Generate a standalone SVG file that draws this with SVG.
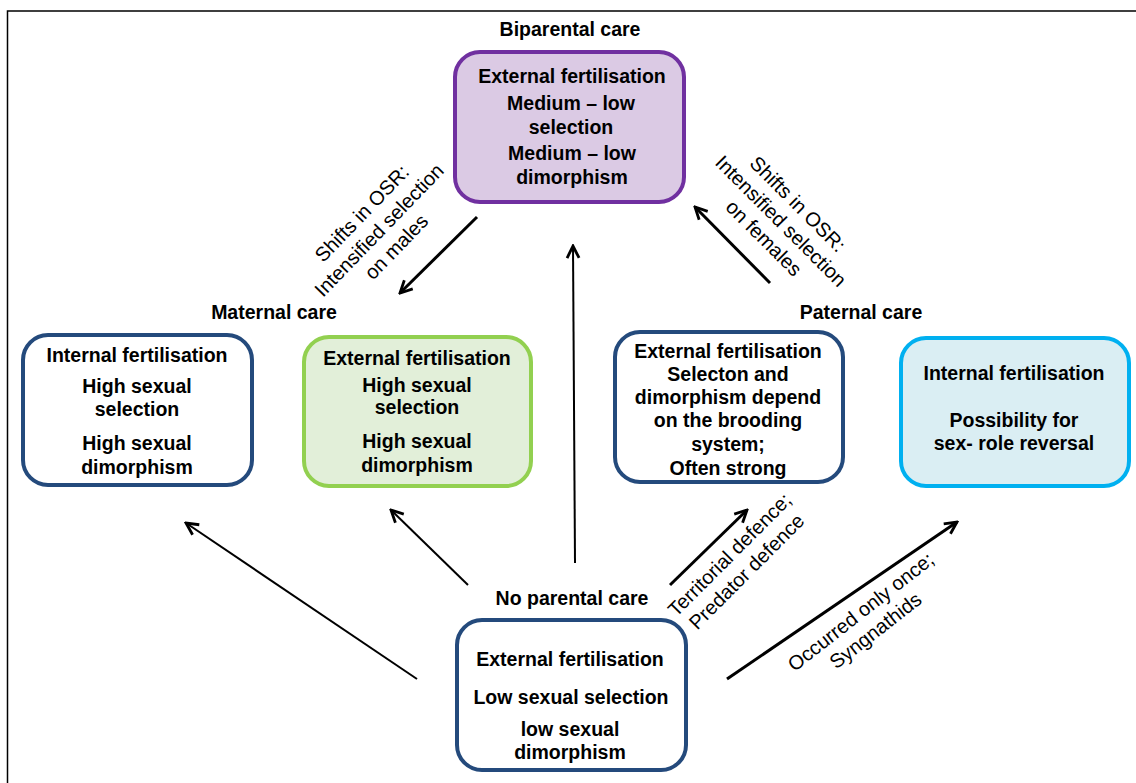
<svg xmlns="http://www.w3.org/2000/svg" width="1136" height="783" viewBox="0 0 1136 783">
<style>
.t{font-family:"Liberation Sans",Arial,sans-serif;font-size:19.5px;font-weight:bold;fill:#000;text-anchor:middle}
.l{font-family:"Liberation Sans",Arial,sans-serif;font-size:20px;fill:#000;text-anchor:middle}
.box{stroke-width:4}
.dark{fill:#fff;stroke:#244A7C}
.conn line{stroke:#000;fill:none}
</style>
<defs>
<marker id="ah" viewBox="0 0 16 16" refX="14" refY="8" markerWidth="16" markerHeight="16" markerUnits="userSpaceOnUse" orient="auto">
<path d="M2,2 L14,8 L2,14" fill="none" stroke="#000" stroke-width="2.8" stroke-linejoin="miter"/>
</marker>
</defs>
<rect width="1136" height="783" fill="#fff"/>
<path d="M7.5,783 V11 H1136" fill="none" stroke="#000" stroke-width="1.5"/>

<g id="biparental">
<text class="t" x="570" y="36">Biparental care</text>
<rect class="box" x="455" y="52" width="229" height="150" rx="25" fill="#DBCAE4" stroke="#7030A0"/>
<text class="t" x="572" y="83">External fertilisation</text>
<text class="t" x="571" y="110">Medium – low</text>
<text class="t" x="571" y="134">selection</text>
<text class="t" x="572" y="160">Medium – low</text>
<text class="t" x="572" y="184">dimorphism</text>
</g>

<g id="maternal-label"><text class="t" x="274" y="319">Maternal care</text></g>
<g id="maternal-internal">
<rect class="box dark" x="23" y="335" width="229" height="150" rx="25"/>
<text class="t" x="137" y="362">Internal fertilisation</text>
<text class="t" x="137" y="393">High sexual</text>
<text class="t" x="137" y="416">selection</text>
<text class="t" x="137" y="450">High sexual</text>
<text class="t" x="137" y="474">dimorphism</text>
</g>
<g id="maternal-external">
<rect class="box" x="304" y="337" width="227" height="149" rx="25" fill="#E2EFD9" stroke="#92D050"/>
<text class="t" x="417" y="365">External fertilisation</text>
<text class="t" x="417" y="392">High sexual</text>
<text class="t" x="417" y="414">selection</text>
<text class="t" x="417" y="448">High sexual</text>
<text class="t" x="417" y="472">dimorphism</text>
</g>

<g id="paternal-label"><text class="t" x="861" y="319">Paternal care</text></g>
<g id="paternal-external">
<rect class="box dark" x="615" y="332" width="228" height="150" rx="25"/>
<text class="t" x="728" y="358">External fertilisation</text>
<text class="t" x="728" y="381">Selecton and</text>
<text class="t" x="728" y="404">dimorphism depend</text>
<text class="t" x="728" y="427">on the brooding</text>
<text class="t" x="728" y="451">system;</text>
<text class="t" x="728" y="475">Often strong</text>
</g>
<g id="paternal-internal">
<rect class="box" x="901" y="338" width="228" height="148" rx="25" fill="#DAEEF3" stroke="#00B0F0"/>
<text class="t" x="1014" y="380">Internal fertilisation</text>
<text class="t" x="1014" y="427">Possibility for</text>
<text class="t" x="1014" y="450">sex- role reversal</text>
</g>

<g id="none">
<text class="t" x="572" y="605">No parental care</text>
<rect class="box dark" x="457" y="620" width="229" height="150" rx="25"/>
<text class="t" x="570" y="666">External fertilisation</text>
<text class="t" x="571" y="704">Low sexual selection</text>
<text class="t" x="570" y="736">low sexual</text>
<text class="t" x="570" y="759">dimorphism</text>
</g>

<g id="connectors" class="conn">
<line x1="477" y1="217" x2="400" y2="293" stroke-width="3" marker-end="url(#ah)"/>
<line x1="770" y1="283" x2="695" y2="207" stroke-width="3" marker-end="url(#ah)"/>
<line x1="575" y1="563" x2="573" y2="246" stroke-width="2" marker-end="url(#ah)"/>
<line x1="417" y1="679" x2="186" y2="523" stroke-width="2" marker-end="url(#ah)"/>
<line x1="468" y1="585" x2="391" y2="510" stroke-width="2" marker-end="url(#ah)"/>
<line x1="670" y1="585" x2="747" y2="510" stroke-width="3" marker-end="url(#ah)"/>
<line x1="727" y1="679" x2="957" y2="522" stroke-width="3" marker-end="url(#ah)"/>
</g>

<g id="edge-labels">
<text class="l" transform="translate(379,230) rotate(-46)"><tspan x="0" y="-17">Shifts in OSR:</tspan><tspan x="0" y="7">Intensified selection</tspan><tspan x="0" y="31">on males</tspan></text>
<text class="l" transform="translate(781,221) rotate(45)"><tspan x="0" y="-17">Shifts in OSR:</tspan><tspan x="0" y="7">Intensified selection</tspan><tspan x="0" y="31">on females</tspan></text>
<text class="l" transform="translate(738,563) rotate(-45)"><tspan x="0" y="-5">Territorial defence;</tspan><tspan x="0" y="19">Predator defence</tspan></text>
<text class="l" transform="translate(868,621) rotate(-38)"><tspan x="0" y="-5">Occurred only once;</tspan><tspan x="0" y="19">Syngnathids</tspan></text>
</g>
</svg>
